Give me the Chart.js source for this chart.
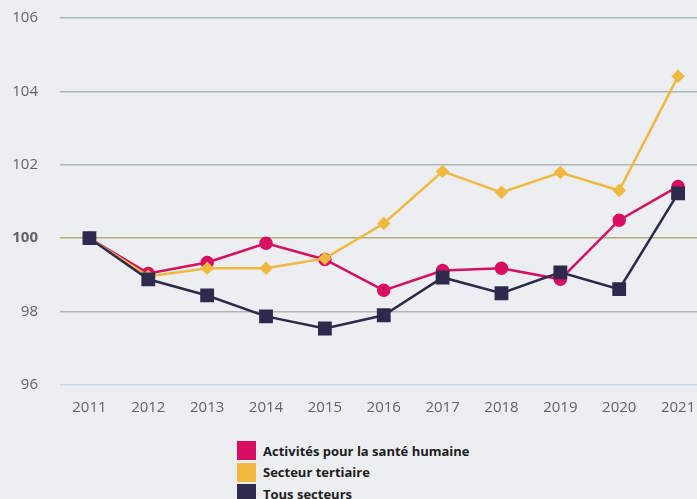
<!DOCTYPE html>
<html>
<head>
<meta charset="utf-8">
<script src="https://cdn.jsdelivr.net/npm/chart.js@4.4.0/dist/chart.umd.min.js"></script>
<style>
  html, body { margin: 0; padding: 0; background: #eceef1; overflow: hidden; width: 697px; height: 499px; }
  #wrap { position: absolute; left: 0; top: 0; width: 718px; height: 430px; }
  #legend { position: absolute; left: 237px; top: 440px; font-family: "Open Sans", sans-serif; font-weight: 700; font-size: 13px; color: #1c1c1c; }
  .item { display: flex; align-items: center; height: 21.5px; }
  .box { width: 19px; height: 19px; margin-right: 7px; }
</style>
</head>
<body>
<div id="wrap"><canvas id="chart" width="718" height="430"></canvas></div>
<div id="legend"></div>
<script>
// Categories and series (index, base 100 in 2011)
const years = ['2011', '2012', '2013', '2014', '2015', '2016', '2017', '2018', '2019', '2020', '2021'];
const sante = [100, 99.04, 99.34, 99.86, 99.42, 98.58, 99.12, 99.18, 98.88, 100.49, 101.41];
const tertiaire = [100, 98.96, 99.18, 99.18, 99.45, 100.40, 101.82, 101.25, 101.79, 101.30, 104.41];
const tous = [100, 98.88, 98.44, 97.87, 97.54, 97.90, 98.93, 98.50, 99.07, 98.61, 101.22];
const yTicks = [96, 98, 100, 102, 104, 106];

const colors = { sante: '#d80f61', tertiaire: '#f1b83f', tous: '#2d2a4e' };

const ctx = document.getElementById('chart').getContext('2d');
const chart = new Chart(ctx, {
    type: 'line',
    data: {
        labels: years,
        datasets: [
            {
                label: 'Activités pour la santé humaine',
                data: sante,
                borderColor: colors.sante,
                backgroundColor: colors.sante,
                borderWidth: 2.5,
                pointStyle: 'circle',
                pointRadius: 5.5,
                order: 3
            },
            {
                label: 'Secteur tertiaire',
                data: tertiaire,
                borderColor: colors.tertiaire,
                backgroundColor: colors.tertiaire,
                borderWidth: 2.5,
                pointStyle: 'rectRot',
                pointRadius: 5,
                order: 2
            },
            {
                label: 'Tous secteurs',
                data: tous,
                borderColor: colors.tous,
                backgroundColor: colors.tous,
                borderWidth: 2.5,
                pointStyle: 'rect',
                pointRadius: 8,
                order: 1
            }
        ]
    },
    options: {
        responsive: false,
        animation: false,
        layout: { padding: { top: 18, left: 0, right: 0, bottom: 0 } },
        plugins: {
            legend: { display: false },
            tooltip: { enabled: false }
        },
        scales: {
            x: {
                offset: true,
                grid: { display: false, drawTicks: false },
                border: { display: false },
                ticks: {
                    padding: 14,
                    color: '#606468',
                    font: { family: '"Open Sans", sans-serif', size: 15 }
                },
                afterFit: function(scale) {
                    scale.height = 45;
                    scale.paddingLeft = 0;
                    scale.paddingRight = 0;
                }
            },
            y: {
                min: 96,
                max: 106,
                afterBuildTicks: function(scale) {
                    scale.ticks = yTicks.map(v => ({ value: v }));
                },
                grid: {
                    drawTicks: false,
                    lineWidth: 1.5,
                    color: function(c) {
                        if (c.tick.value === 100) return '#b3ad78';
                        if (c.tick.value === 96) return '#c8d8ea';
                        return '#a9b9b8';
                    }
                },
                border: { display: false },
                ticks: {
                    padding: 22,
                    color: '#606468',
                    font: function(c) {
                        return {
                            family: '"Open Sans", sans-serif',
                            size: 15,
                            weight: c.tick && c.tick.value === 100 ? 'bold' : 'normal'
                        };
                    }
                },
                afterFit: function(scale) {
                    scale.width = 60;
                    scale.paddingTop = 0;
                    scale.paddingBottom = 0;
                }
            }
        }
    }
});

// Build legend (stacked vertically) from the datasets
const legend = document.getElementById('legend');
chart.data.datasets.forEach(ds => {
    const row = document.createElement('div');
    row.className = 'item';
    const box = document.createElement('span');
    box.className = 'box';
    box.style.background = ds.borderColor;
    const txt = document.createElement('span');
    txt.textContent = ds.label;
    row.appendChild(box);
    row.appendChild(txt);
    legend.appendChild(row);
});
</script>
</body>
</html>
